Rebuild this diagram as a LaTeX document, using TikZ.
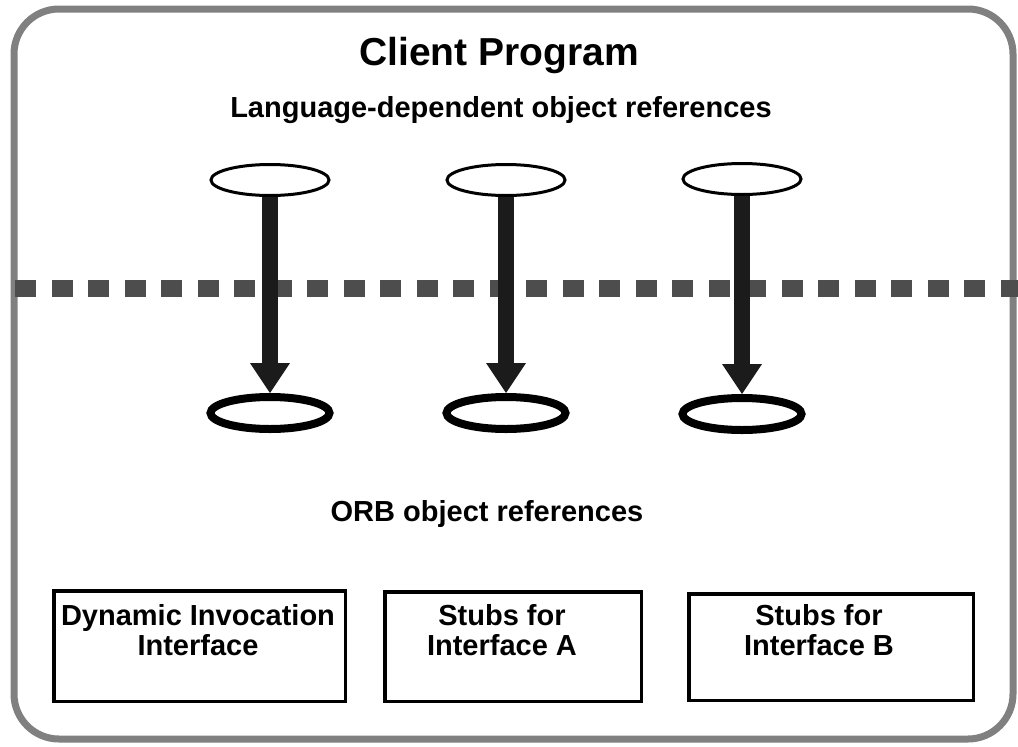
\documentclass[tikz,border=0pt]{standalone}
\usepackage{fontspec}
\setmainfont{Liberation Sans}
\usepackage{tikz}
\usetikzlibrary{arrows,shapes.geometric}
\definecolor{framegray}{HTML}{808080}
\definecolor{dashgray}{HTML}{4D4D4D}
\definecolor{shaftblack}{HTML}{1B1B1B}

\begin{document}
\begin{tikzpicture}[x=1pt,y=1pt,
	langref/.style={draw=black,ellipse,line width=3pt,minimum width=118pt,minimum height=31pt},
	orbref/.style={draw=black,ellipse,line width=8pt,minimum width=119pt,minimum height=32pt},
	refbox/.style={draw=black,rectangle,line width=3.5pt},
	boxlabel/.style={align=center,font=\fontsize{29}{30}\selectfont\bfseries},
	headline/.style={anchor=base,font=\fontsize{29}{30}\selectfont\bfseries},
	shaft/.style={draw=shaftblack,line width=16pt,shorten >=29pt}]
	\tikzstyle{every node}+=[inner sep=0pt]
	\useasboundingbox (0,0) rectangle (1018,-747);
	\draw [framegray,line width=7pt,rounded corners=45pt] (14,-9) rectangle (1013,-739);
	\node [anchor=base,font=\fontsize{39}{40}\selectfont\bfseries] (title) at (499,-65) {Client Program};
	\node [headline] (langlabel) at (501,-117) {Language-dependent object references};
	\node [headline] (orblabel) at (487,-521) {ORB object references};
	\draw [dashgray,line width=17pt,dash pattern=on 21pt off 15.5pt] (15,-288) -- (1018,-288);
	\node [langref] (lang1) at (270,-180) {};
	\node [langref] (lang2) at (506,-180) {};
	\node [langref] (lang3) at (742,-179) {};
	\node [orbref] (orb1) at (270,-413) {};
	\node [orbref] (orb2) at (506,-413) {};
	\node [orbref] (orb3) at (742,-414) {};
	\draw [shaft] (lang1.south) -- (orb1.north);
	\fill [shaftblack] (orb1.north) -- ++(-20,30) -- ++(40,0) -- cycle;
	\draw [shaft] (lang2.south) -- (orb2.north);
	\fill [shaftblack] (orb2.north) -- ++(-20,30) -- ++(40,0) -- cycle;
	\draw [shaft] (lang3.south) -- (orb3.north);
	\fill [shaftblack] (orb3.north) -- ++(-20,30) -- ++(40,0) -- cycle;
	\node [refbox,minimum width=291.5pt,minimum height=110.5pt] (dii) at (199.5,-646) {};
	\node [refbox,minimum width=256.5pt,minimum height=109.5pt] (stubsA) at (513,-646.5) {};
	\node [refbox,minimum width=284.5pt,minimum height=106.5pt] (stubsB) at (831,-647) {};
	\node [boxlabel] (diitext) at (198,-630) {Dynamic Invocation\\Interface};
	\node [boxlabel] (stubsAtext) at (502,-630) {Stubs for\\Interface A};
	\node [boxlabel] (stubsBtext) at (819,-630) {Stubs for\\Interface B};
\end{tikzpicture}
\end{document}
